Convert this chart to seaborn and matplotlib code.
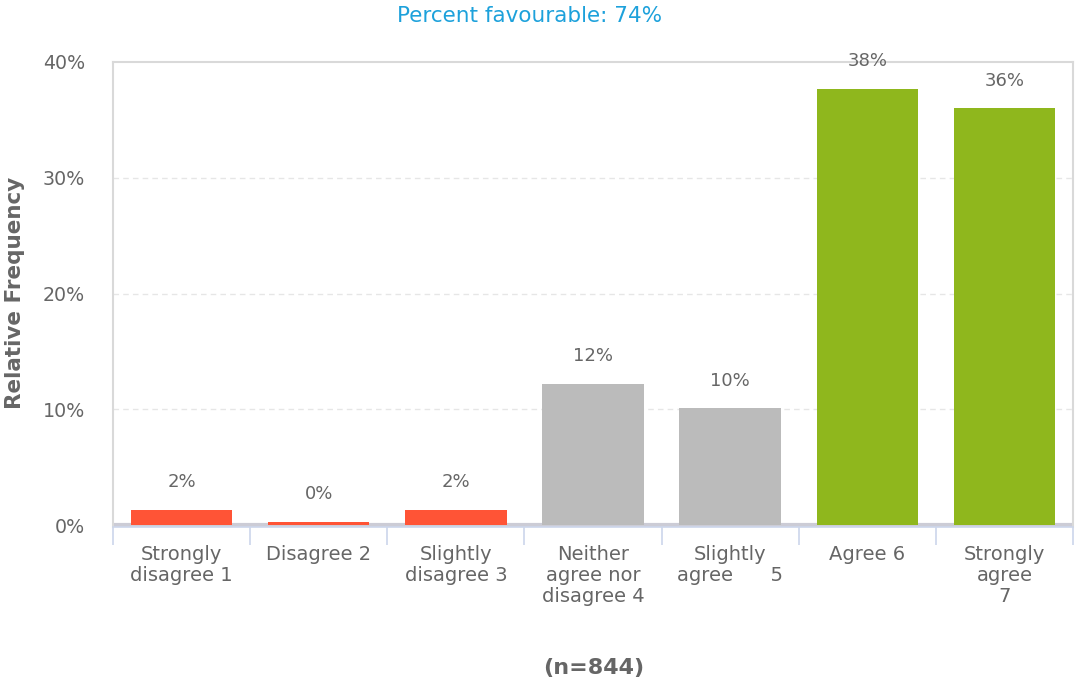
import numpy as np
import pandas as pd
import matplotlib
matplotlib.use("Agg")
import matplotlib.pyplot as plt
import seaborn as sns

# --- DATA ---
categories = ["Strongly\ndisagree 1", "Disagree 2", "Slightly\ndisagree 3",
              "Neither\nagree nor\ndisagree 4", "Slightly\nagree      5",
              "Agree 6", "Strongly\nagree\n7"]
values = [1.3, 0.3, 1.3, 12.2, 10.1, 37.7, 36.0]
value_labels = ["2%", "0%", "2%", "12%", "10%", "38%", "36%"]
bar_colors = ["#ff5436", "#ff5436", "#ff5436", "#bbbbbb", "#bbbbbb", "#8fb71d", "#8fb71d"]
y_ticks = [0, 10, 20, 30, 40]
title_text = "Percent favourable: 74%"
n_text = "(n=844)"

GREY_TXT = "#666666"


def make_chart():
    sns.set_theme(style="white")
    plt.rcParams['font.family'] = ['DejaVu Sans']

    df = pd.DataFrame({"category": categories, "value": values})

    fig = plt.figure(figsize=(10.75, 6.82), dpi=100)
    ax = fig.add_axes([113 / 1075, 1 - 527 / 682, 960 / 1075, 465 / 682])

    sns.barplot(data=df, x="category", y="value", hue="category",
                palette=bar_colors, legend=False, width=0.74,
                saturation=1, linewidth=0, ax=ax, zorder=3)

    ax.set_ylim(-0.15, 40)
    ax.set_xlim(-0.5, len(categories) - 0.5)

    # grid
    for t in y_ticks[1:-1]:
        ax.axhline(t, color="#e6e6e6", lw=1, ls=(0, (4, 3)), zorder=1)
    # baseline
    ax.axhline(0, color="#ccccd6", lw=3, zorder=2)

    ax.set_yticks(y_ticks)
    ax.set_yticklabels([f"{t}%" for t in y_ticks], color=GREY_TXT, fontsize=13.7)
    ax.tick_params(axis="y", length=0, pad=20)

    ax.set_xticks(range(len(categories)))
    ax.set_xticklabels(categories, color=GREY_TXT, fontsize=14, linespacing=1.12)
    ax.set_xticks(np.arange(-0.5, len(categories)), minor=True)
    ax.tick_params(axis="x", which="major", bottom=False, length=0, pad=13)
    ax.tick_params(axis="x", which="minor", bottom=True, length=13, width=1.2,
                   color="#ccd6eb")

    for side in ["left", "top", "right"]:
        ax.spines[side].set_color("#d9d9d9")
        ax.spines[side].set_linewidth(1.5)
    ax.spines["bottom"].set_color("#ccd6eb")
    ax.spines["bottom"].set_linewidth(1.2)

    ax.set_xlabel("")
    ax.set_ylabel("")
    fig.text(15 / 1075, 1 - 293 / 682, "Relative Frequency", rotation=90,
             ha="center", va="center", color=GREY_TXT, fontsize=15.5,
             fontweight="bold")

    for i, (v, lab) in enumerate(zip(values, value_labels)):
        ax.annotate(lab, (i, v), xytext=(0, 20), textcoords="offset points",
                    ha="center", va="center", color=GREY_TXT, fontsize=13,
                    zorder=5, annotation_clip=False)

    fig.text(530 / 1075, 1 - 16 / 682, title_text, ha="center", va="center",
             color="#1da1db", fontsize=15.5)
    fig.text(594 / 1075, 1 - 668 / 682, n_text, ha="center", va="center",
             color=GREY_TXT, fontsize=16, fontweight="bold")

    fig.savefig("out.png", dpi=100)


if __name__ == "__main__":
    make_chart()
